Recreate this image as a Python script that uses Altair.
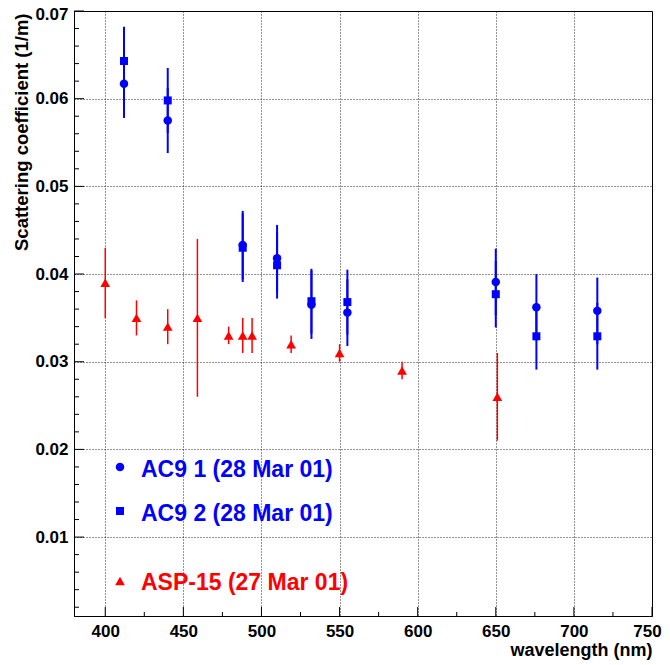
import altair as alt
import pandas as pd

# ---- data ----
ac9_1_wl = [412, 440, 488, 510, 532, 555, 650, 676, 715]
ac9_1_val = [0.0617, 0.0575, 0.0433, 0.0418, 0.0365, 0.0356, 0.0391, 0.0362, 0.0358]
ac9_1_err = [0.0039, 0.0037, 0.0039, 0.0038, 0.0039, 0.0038, 0.0038, 0.0038, 0.0038]

ac9_2_wl = [412, 440, 488, 510, 532, 555, 650, 676, 715]
ac9_2_val = [0.0643, 0.0598, 0.0430, 0.0410, 0.0369, 0.0368, 0.0377, 0.0329, 0.0329]
ac9_2_err = [0.0039, 0.0037, 0.0039, 0.0038, 0.0037, 0.0037, 0.0038, 0.0038, 0.0038]

asp_wl = [400, 420, 440, 459, 479, 488, 494, 519, 550, 590, 651]
asp_val = [0.039, 0.035, 0.034, 0.035, 0.033, 0.033, 0.033, 0.032, 0.031, 0.029, 0.026]
asp_err = [0.004, 0.002, 0.002, 0.009, 0.001, 0.002, 0.002, 0.001, 0.001, 0.001, 0.005]

legend_labels = ["AC9 1 (28 Mar 01)", "AC9 2 (28 Mar 01)", "ASP-15 (27 Mar 01)"]

x_major = [400, 450, 500, 550, 600, 650, 700, 750]
x_minor = [425, 475, 525, 575, 625, 675, 725]
y_major = [0.01, 0.02, 0.03, 0.04, 0.05, 0.06, 0.07]
y_minor = [0.002, 0.004, 0.006, 0.008, 0.012, 0.014, 0.016, 0.018,
           0.022, 0.024, 0.026, 0.028, 0.032, 0.034, 0.036, 0.038,
           0.042, 0.044, 0.046, 0.048, 0.052, 0.054, 0.056, 0.058,
           0.062, 0.064, 0.066, 0.068]

BLUE = "#0000ff"
RED = "#ff0000"
FONT = "Liberation Sans"
W, H = 578, 605


def series(wl, val, err):
    return pd.DataFrame({
        "wl": wl, "v": val,
        "lo": [a - b for a, b in zip(val, err)],
        "hi": [a + b for a, b in zip(val, err)],
    })


d1 = series(ac9_1_wl, ac9_1_val, ac9_1_err)
d2 = series(ac9_2_wl, ac9_2_val, ac9_2_err)
d3 = series(asp_wl, asp_val, asp_err)

xs = alt.Scale(domain=[380, 750], nice=False, zero=False)
ys = alt.Scale(domain=[0.001, 0.07], nice=False, zero=False)

x_axis = alt.Axis(
    values=x_major, title="wavelength (nm)", ticks=False, labelPadding=7,
    labelFont=FONT, labelFontSize=17, labelFontWeight="bold", labelColor="black",
    labelFlush=False, labelOverlap=False,
    labelOffset={"condition": {"test": "datum.value == 750", "value": -5}, "value": 0},
    titleFont=FONT, titleFontSize=18, titleFontWeight="bold", titleColor="black",
    titleAnchor="end", titleAlign="right", titleX=W, titleY=39, titleBaseline="alphabetic",
    grid=True, gridColor="black", gridDash=[1, 2], gridOpacity=0.85, gridWidth=1,
    domainColor="black", domainWidth=1,
)
y_axis = alt.Axis(
    values=y_major, format=".2f", title="Scattering coefficient (1/m)", ticks=False,
    labelPadding=6,
    labelFont=FONT, labelFontSize=17, labelFontWeight="bold", labelColor="black",
    labelFlush=False, labelOverlap=False,
    labelOffset={"condition": {"test": "datum.value >= 0.0695", "value": 3}, "value": 0},
    titleFont=FONT, titleFontSize=18.5, titleFontWeight="bold", titleColor="black",
    titleAngle=270, titleAlign="right", titleBaseline="alphabetic",
    titleX=-47, titleY=2,
    grid=True, gridColor="black", gridDash=[1, 2], gridOpacity=0.85, gridWidth=1,
    domainColor="black", domainWidth=1,
)


def X(field):
    return alt.X(field, type="quantitative", scale=xs, axis=x_axis)


def Y(field):
    return alt.Y(field, type="quantitative", scale=ys, axis=y_axis)


# error bars
e1 = alt.Chart(d1).mark_rule(color=BLUE, strokeWidth=2).encode(x=X("wl"), y=Y("lo"), y2="hi:Q")
e2 = alt.Chart(d2).mark_rule(color=BLUE, strokeWidth=2).encode(x=X("wl"), y=Y("lo"), y2="hi:Q")
e3 = alt.Chart(d3).mark_rule(color=RED, strokeWidth=1.5).encode(x=X("wl"), y=Y("lo"), y2="hi:Q")

# markers
p1 = alt.Chart(d1).mark_point(shape="circle", filled=True, size=72, color=BLUE, opacity=1).encode(
    x=X("wl"), y=Y("v"))
p2 = alt.Chart(d2).mark_point(shape="square", filled=True, size=64, color=BLUE, opacity=1).encode(
    x=X("wl"), y=Y("v"))
p3 = alt.Chart(d3).mark_point(shape="triangle-up", filled=True, size=95, color=RED, opacity=1).encode(
    x=X("wl"), y=Y("v"))


# inward ticks (ROOT style)
def yticks(vals, length):
    return alt.Chart(pd.DataFrame({"t": vals})).mark_rule(color="black", strokeWidth=1).encode(
        y=Y("t"), x=alt.value(0), x2=alt.value(length))


def xticks(vals, length):
    return alt.Chart(pd.DataFrame({"t": vals})).mark_rule(color="black", strokeWidth=1).encode(
        x=X("t"), y=alt.value(H), y2=alt.value(H - length))


ticks = [yticks(y_major, 10), yticks(y_minor, 5), xticks(x_major, 9), xticks(x_minor, 4)]

# legend
one = pd.DataFrame({"a": [0]})
legend = []
for label, color, shape, size, ym, yt in [
    (legend_labels[0], BLUE, "circle", 72, 456, 466),
    (legend_labels[1], BLUE, "square", 64, 500, 510),
    (legend_labels[2], RED, "triangle-up", 95, 570, 579),
]:
    legend.append(alt.Chart(one).mark_point(shape=shape, filled=True, size=size, color=color, opacity=1)
                  .encode(x=alt.value(46), y=alt.value(ym)))
    legend.append(alt.Chart(one).mark_text(text=label, align="left", baseline="alphabetic",
                                           font=FONT, fontSize=23, fontWeight="bold", color=color)
                  .encode(x=alt.value(67), y=alt.value(yt)))

chart = alt.layer(e1, e2, e3, p1, p2, p3, *ticks, *legend).properties(
    width=W, height=H, autosize="none",
    padding={"left": 66, "top": 3, "right": 10, "bottom": 46},
).configure_view(stroke="black", strokeWidth=1)

chart.save("out.html", embed_options={"renderer": "svg", "actions": False})
